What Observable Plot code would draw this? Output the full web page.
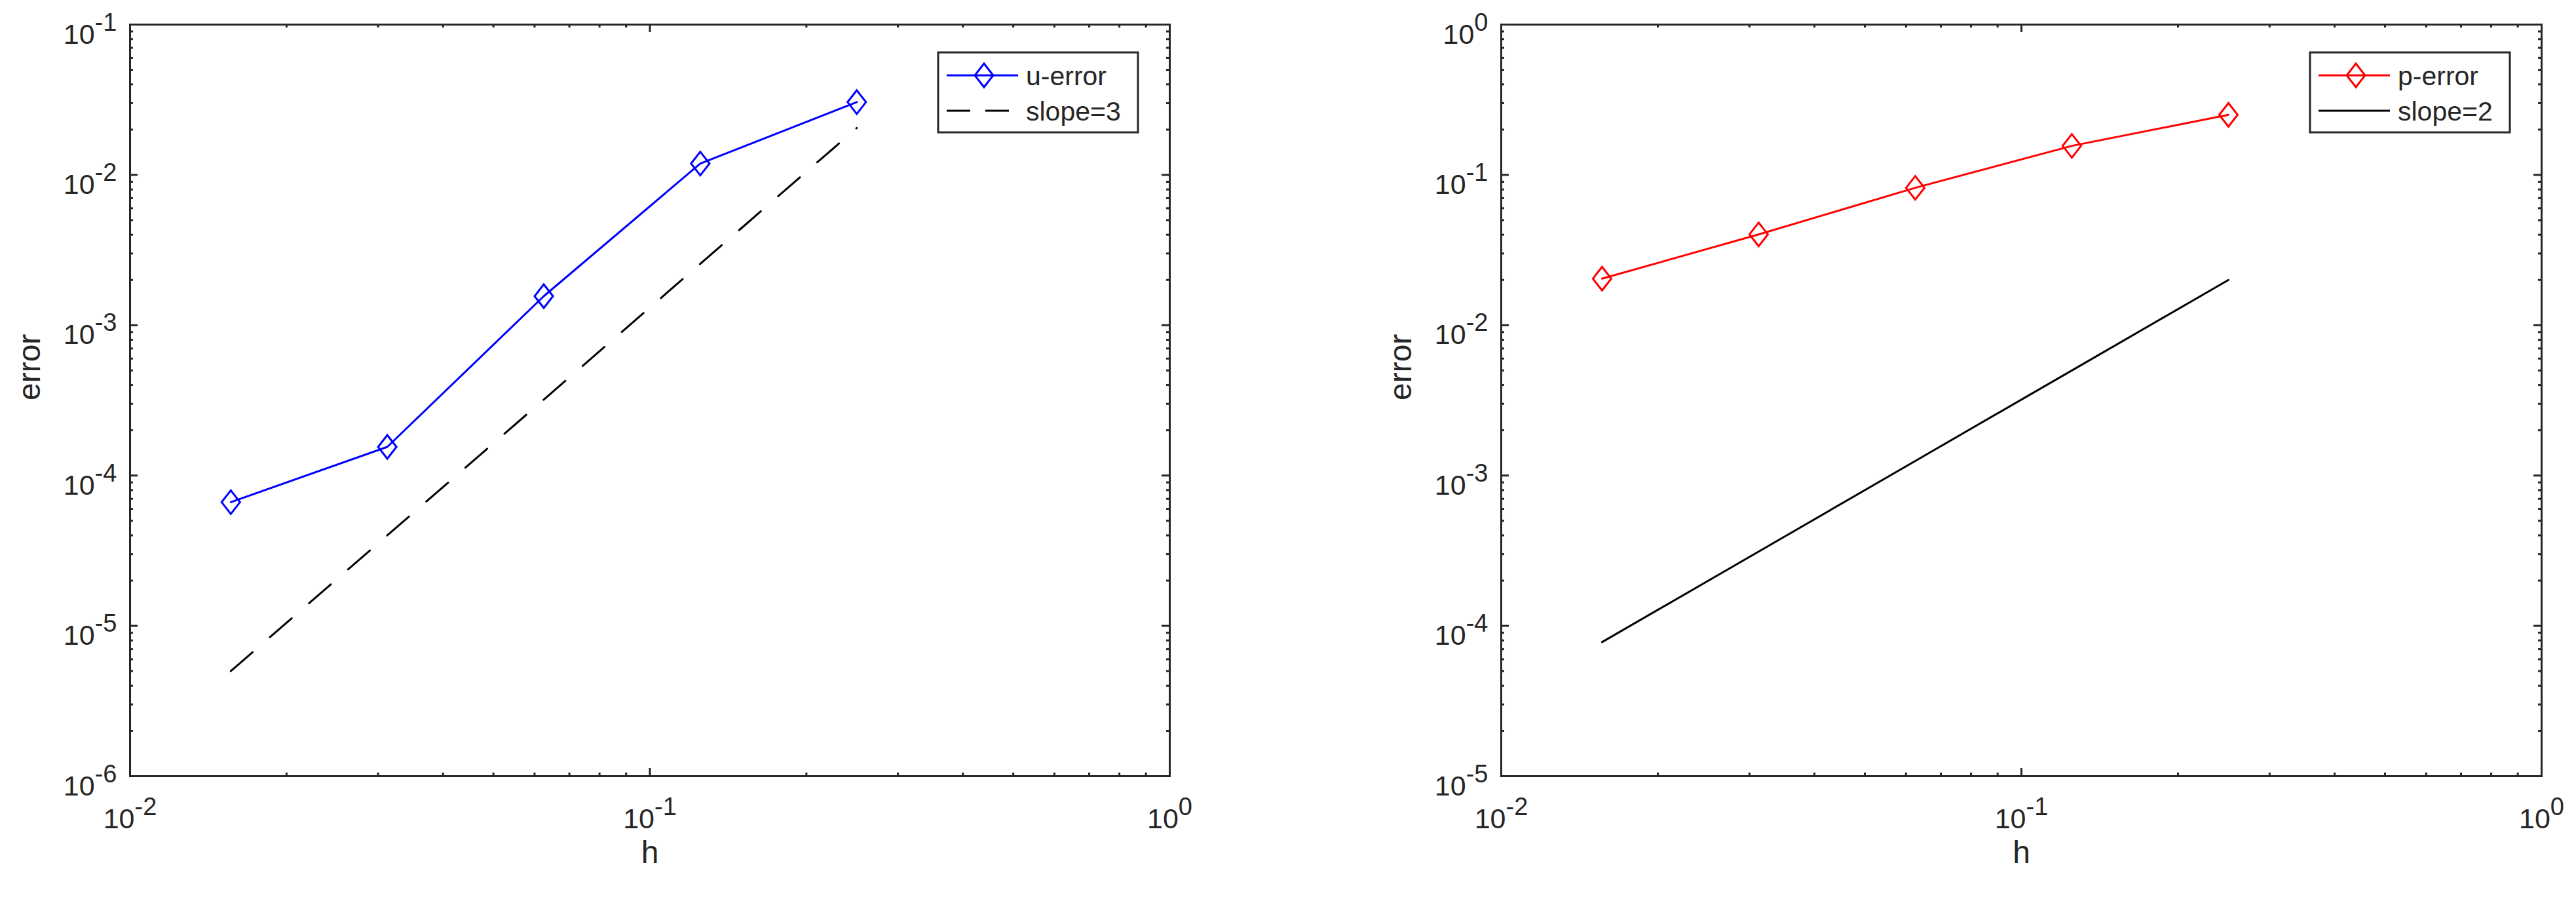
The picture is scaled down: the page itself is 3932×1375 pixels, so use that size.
<!DOCTYPE html>
<html><head><meta charset="utf-8">
<script src="https://cdn.jsdelivr.net/npm/d3@7"></script>
<script src="https://cdn.jsdelivr.net/npm/@observablehq/plot@0.6"></script>
<style>
body{margin:0;background:#fff;}
#wrap{position:relative;width:3932px;height:1375px;overflow:hidden;background:#fff;}
.panel{position:absolute;top:0;}
</style></head><body><div id="wrap"></div>
<script>
// ---- data ----
const h = [0.015625, 0.03125, 0.0625, 0.125, 0.25];
const uError = [6.65e-5, 1.55e-4, 1.56e-3, 1.19e-2, 3.05e-2];
const slope3 = [5.0e-6, 4.0e-5, 3.2e-4, 2.56e-3, 2.05e-2];
const pError = [2.04e-2, 4.02e-2, 8.2e-2, 0.156, 0.251];
const slope2 = [7.8e-5, 3.12e-4, 1.25e-3, 5.0e-3, 2.0e-2];

const xTickValues = [1e-2, 1e-1, 1];
const xTickLabels = ["10^-2", "10^-1", "10^0"];
const yTickValuesLeft = [1e-6, 1e-5, 1e-4, 1e-3, 1e-2, 1e-1];
const yTickLabelsLeft = ["10^-6", "10^-5", "10^-4", "10^-3", "10^-2", "10^-1"];
const yTickValuesRight = [1e-5, 1e-4, 1e-3, 1e-2, 1e-1, 1];
const yTickLabelsRight = ["10^-5", "10^-4", "10^-3", "10^-2", "10^-1", "10^0"];

const xLabel = "h";
const yLabel = "error";
const legendLeft = ["u-error", "slope=3"];
const legendRight = ["p-error", "slope=2"];

// ---- helpers ----
const AX = "#262626";
const FONT = "'Liberation Sans', Arial, Helvetica, sans-serif";
const H = 1375, MT = 37, MB = 1375 - 1184;

function minorTicks(majors) {
  const out = [];
  for (let i = 0; i < majors.length - 1; i++)
    for (let m = 2; m <= 9; m++) out.push(majors[i] * m);
  return out;
}
const diamond = {
  draw(context, size) {
    const r = Math.sqrt(size / Math.PI), w = r * 0.78;
    context.moveTo(0, -r); context.lineTo(w, 0); context.lineTo(0, r); context.lineTo(-w, 0); context.closePath();
  }
};

function panel({left, W, ML, MR, yTicks, yTickLabels, err, ref, color, refDash, legend}) {
  const innerH = H - MT - MB, innerW = W - ML - MR;
  const rows = h.map((x, i) => ({h: x, e: err[i], r: ref[i]}));
  const xMinor = minorTicks(xTickValues), yMinor = minorTicks(yTicks);
  const tk = {stroke: AX, strokeWidth: 3};
  const svg = Plot.plot({
    width: W, height: H, marginLeft: ML, marginRight: MR, marginTop: MT, marginBottom: MB,
    style: {background: "transparent", fontFamily: FONT, color: AX, overflow: "visible"},
    x: {type: "log", domain: [xTickValues[0], xTickValues[xTickValues.length - 1]]},
    y: {type: "log", domain: [yTicks[0], yTicks[yTicks.length - 1]]},
    marks: [
      Plot.tickX(xTickValues, {x: d => d, insetTop: innerH - 12, ...tk}),
      Plot.tickX(xTickValues, {x: d => d, insetBottom: innerH - 12, ...tk}),
      Plot.tickX(xMinor, {x: d => d, insetTop: innerH - 5, ...tk}),
      Plot.tickX(xMinor, {x: d => d, insetBottom: innerH - 5, ...tk}),
      Plot.tickY(yTicks, {y: d => d, insetRight: innerW - 12, ...tk}),
      Plot.tickY(yTicks, {y: d => d, insetLeft: innerW - 12, ...tk}),
      Plot.tickY(yMinor, {y: d => d, insetRight: innerW - 5, ...tk}),
      Plot.tickY(yMinor, {y: d => d, insetLeft: innerW - 5, ...tk}),
      Plot.line(rows, {x: "h", y: "r", stroke: "#000", strokeWidth: 3, strokeDasharray: refDash}),
      Plot.line(rows, {x: "h", y: "e", stroke: color, strokeWidth: 3}),
      Plot.dot(rows, {x: "h", y: "e", symbol: diamond, r: 18, stroke: color, strokeWidth: 3, fill: "none"}),
      Plot.frame({stroke: AX, strokeWidth: 3}),
      Plot.axisX({ticks: xTickValues, tickSize: 0, tickPadding: 0, fontSize: 43, label: null,
        tickFormat: d => xTickLabels[xTickValues.indexOf(d)]}),
      Plot.axisY({ticks: yTicks, tickSize: 0, tickPadding: 20, fontSize: 43, label: null,
        tickFormat: d => yTickLabels[yTicks.indexOf(d)]}),
      Plot.text([xLabel], {frameAnchor: "bottom", dy: 132, fontSize: 48, fill: AX}),
      Plot.text([yLabel], {frameAnchor: "left", rotate: -90, dx: -153, fontSize: 48, fill: AX})
    ]
  });
  // superscript exponents on tick labels
  function fmt(node) {
    const t = d3.select(node), s = t.text(), [b, e] = s.split("^");
    t.text(null);
    t.append("tspan").text(b);
    t.append("tspan").attr("font-size", 38).attr("dy", -20).text(e);
  }
  d3.select(svg).selectAll('g[aria-label="x-axis tick label"] text').each(function () {
    fmt(this); d3.select(this).attr("dy", null).attr("y", 79);
  });
  d3.select(svg).selectAll('g[aria-label="y-axis tick label"] text').each(function () {
    fmt(this); d3.select(this).attr("dy", null).attr("y", 29);
  });
  // legend box
  const bw = 305, bh = 122, bx = W - MR - 48 - bw, by = 80;
  const g = d3.select(svg).append("g").attr("font-family", FONT).attr("text-anchor", "start");
  g.append("rect").attr("x", bx).attr("y", by).attr("width", bw).attr("height", bh)
    .attr("fill", "#fff").attr("stroke", AX).attr("stroke-width", 3);
  const rowsY = [by + 35, by + 89];
  legend.forEach((lab, i) => {
    const cy = rowsY[i];
    const ln = g.append("line").attr("x1", bx + 13).attr("x2", bx + 122).attr("y1", cy).attr("y2", cy)
      .attr("stroke", i === 0 ? color : "#000").attr("stroke-width", 3);
    if (i === 1 && refDash) ln.attr("stroke-dasharray", "36,23");
    if (i === 0) g.append("path").attr("transform", `translate(${bx + 70},${cy})`)
      .attr("d", "M0,-18L14,0L0,18L-14,0Z").attr("fill", "none").attr("stroke", color).attr("stroke-width", 3);
    g.append("text").attr("x", bx + 134).attr("y", cy + 15).attr("font-size", 41)
      .attr("text-anchor", "start").attr("fill", AX).text(lab);
  });
  const div = document.createElement("div");
  div.className = "panel"; div.style.left = left + "px";
  div.appendChild(svg);
  document.getElementById("wrap").appendChild(div);
}

panel({left: 0, W: 1966, ML: 198, MR: 1966 - 1785, yTicks: yTickValuesLeft, yTickLabels: yTickLabelsLeft,
  err: uError, ref: slope3, color: "#0000ff", refDash: "44,35", legend: legendLeft});
panel({left: 1966, W: 1966, ML: 2291 - 1966, MR: 1966 - (3879 - 1966), yTicks: yTickValuesRight, yTickLabels: yTickLabelsRight,
  err: pError, ref: slope2, color: "#ff0000", refDash: null, legend: legendRight});
</script></body></html>
